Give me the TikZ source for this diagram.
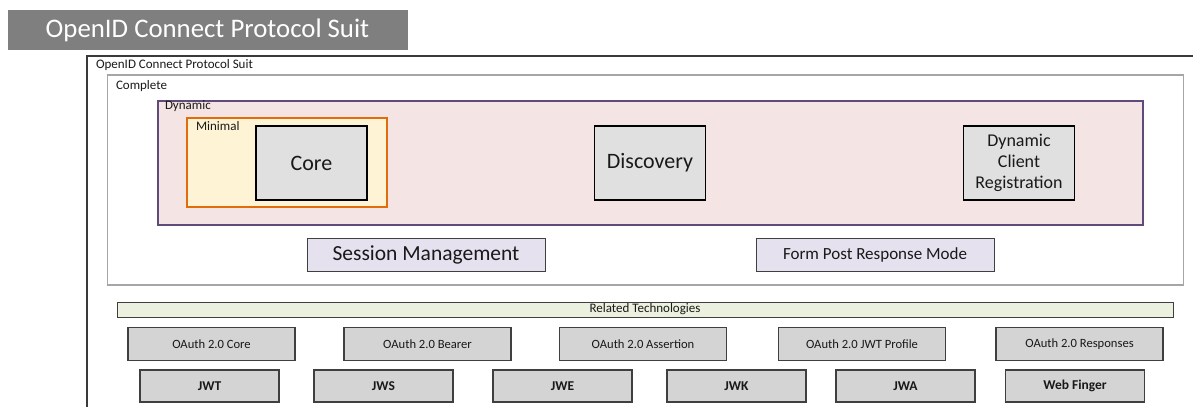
\documentclass[tikz,border=0pt]{standalone}
\usepackage{fontspec}
\setmainfont{Carlito}
\definecolor{titlegray}{HTML}{7F7F7F}
\definecolor{frameline}{HTML}{3A3A3A}
\definecolor{completeline}{HTML}{A6A6A6}
\definecolor{dynline}{HTML}{604A7B}
\definecolor{dynfill}{HTML}{F4E4E4}
\definecolor{minline}{HTML}{E36C0A}
\definecolor{minfill}{HTML}{FEF3D4}
\definecolor{specfill}{HTML}{E0E0E0}
\definecolor{extfill}{HTML}{E6E1EE}
\definecolor{relfill}{HTML}{EBF1DE}
\definecolor{techfill}{HTML}{D4D4D4}
\definecolor{boxline}{HTML}{3F3F3F}
\begin{document}
\begin{tikzpicture}[x=1pt,y=-1pt,
  every node/.style={inner sep=0pt, outer sep=0pt, text=black!90},
  tag/.style={anchor=west, font=\fontsize{13}{15}\selectfont},
  spec/.style={draw=black, line width=1.8pt, fill=specfill, minimum width=111, minimum height=74, align=center},
  ext/.style={draw=boxline, line width=1pt, fill=extfill, minimum width=238, minimum height=33},
  oauth/.style={draw=boxline, line width=1.1pt, fill=techfill, minimum width=167, minimum height=33, font=\fontsize{12.6}{14}\selectfont},
  jose/.style={draw=boxline, line width=1.1pt, fill=techfill, minimum width=139, minimum height=32, font=\fontsize{13.5}{15}\selectfont\bfseries}
]
\useasboundingbox (0,0) rectangle (1193,407);

% heading bar
\node[fill=titlegray, minimum width=400, minimum height=40, text=white,
      font=\fontsize{26.8}{30}\selectfont] (title) at (207.5,30) {OpenID Connect Protocol Suit};

% outer frame: open at the right and bottom
\coordinate (fbl) at (87,407);
\coordinate (ftl) at (87,56);
\coordinate (ftr) at (1193,56);
\draw[frameline, line width=1.6pt] (fbl) -- (ftl) -- (ftr);
\node[tag] (suitlbl) at (96,65.5) {OpenID Connect Protocol Suit};

% nested conformance profiles
\node[draw=completeline, line width=1.2pt, minimum width=1076, minimum height=210] (complete) at (645.5,180) {};
\node[tag] (completelbl) at (116,86) {Complete};

\node[draw=dynline, line width=1.4pt, fill=dynfill, minimum width=985, minimum height=124] (dynamic) at (650.5,163) {};
\node[tag] (dynamiclbl) at (165,106) {Dynamic};

\node[draw=minline, line width=1.4pt, fill=minfill, minimum width=200, minimum height=89] (minimal) at (287,162.5) {};
\node[tag] (minimallbl) at (196,126) {Minimal};

% specifications
\node[spec, font=\fontsize{22}{24}\selectfont] (core) at (311.5,163) {Core};
\node[spec, font=\fontsize{22}{24}\selectfont] (discovery) at (650,163) {Discovery};
\node[spec, font=\fontsize{18}{21}\selectfont] (dcr) at (1019,163) {Dynamic\\Client\\Registration};

\node[ext, font=\fontsize{21.5}{24}\selectfont] (session) at (426,254.5) {Session Management};
\node[ext, font=\fontsize{17}{19}\selectfont] (formpost) at (875,254.5) {Form Post Response Mode};

% related technologies
\node[draw=boxline, line width=1pt, fill=relfill, minimum width=1056, minimum height=15,
      font=\fontsize{13}{14}\selectfont] (related) at (645,309.5) {Related Technologies};

\node[oauth] (oacore)   at (211.5,344) {OAuth 2.0 Core};
\node[oauth] (oabearer) at (427.5,344) {OAuth 2.0 Bearer};
\node[oauth] (oaassert) at (643,344)   {OAuth 2.0 Assertion};
\node[oauth] (oajwt)    at (862,344)   {OAuth 2.0 JWT Profile};
\node[oauth] (oaresp)   at (1079.5,344){OAuth 2.0 Responses};

\node[jose] (jwt)  at (209.5,386) {JWT};
\node[jose] (jws)  at (383.5,386) {JWS};
\node[jose] (jwe)  at (562.5,386) {JWE};
\node[jose] (jwk)  at (736.5,386) {JWK};
\node[jose] (jwa)  at (905.5,386) {JWA};
\node[jose] (webf) at (1075,386)  {Web Finger};
\end{tikzpicture}
\end{document}
